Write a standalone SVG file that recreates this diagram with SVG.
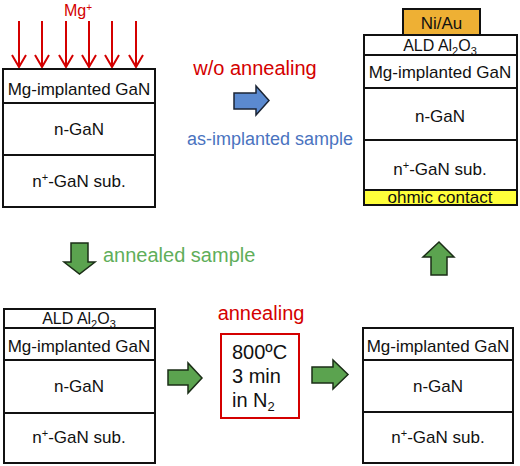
<svg xmlns="http://www.w3.org/2000/svg" width="520" height="466" viewBox="0 0 520 466">
<defs>
<style>
text{font-family:"Liberation Sans",Arial,sans-serif;}
.layer{fill:#fff;stroke:#111;stroke-width:2;}
.t{font-size:17px;fill:#111;text-anchor:middle;}
.red{fill:#d40000;}
.ga{fill:#5ba34f;stroke:#1b2e17;stroke-width:1.5;stroke-linejoin:miter;}
.ba{fill:#5b8ad0;stroke:#1b2535;stroke-width:1.5;}
.ion{stroke:#d40000;stroke-width:2;fill:none;}
</style>
</defs>

<g id="ion-beam">
<text x="78" y="16" class="red" style="font-size:16px;text-anchor:middle">Mg<tspan dy="-5" font-size="10">+</tspan></text>
<line class="ion" x1="19" y1="21" x2="19" y2="67"/>
<line class="ion" x1="42" y1="21" x2="42" y2="67"/>
<line class="ion" x1="66" y1="21" x2="66" y2="67"/>
<line class="ion" x1="89" y1="21" x2="89" y2="67"/>
<line class="ion" x1="112" y1="21" x2="112" y2="67"/>
<line class="ion" x1="136" y1="21" x2="136" y2="67"/>
<path class="ion" d="M12,55 L19,67 L26,55 M35,55 L42,67 L49,55 M59,55 L66,67 L73,55 M82,55 L89,67 L96,55 M105,55 L112,67 L119,55 M129,55 L136,67 L143,55"/>
</g>

<g id="stack-implanted">
<rect class="layer" x="3" y="69" width="152" height="34"/>
<rect class="layer" x="3" y="103" width="152" height="52"/>
<rect class="layer" x="3" y="155" width="152" height="52"/>
<text class="t" x="79" y="95">Mg-implanted GaN</text>
<text class="t" x="79" y="135">n-GaN</text>
<text class="t" x="79" y="187">n<tspan dy="-6" font-size="11">+</tspan><tspan dy="6">-GaN sub.</tspan></text>
</g>

<g id="stack-device">
<rect x="403" y="9" width="77" height="26" fill="#eeb034" stroke="#111" stroke-width="2"/>
<text class="t" x="441.5" y="29">Ni/Au</text>
<rect class="layer" x="364" y="35" width="153" height="20"/>
<rect class="layer" x="364" y="55" width="153" height="33"/>
<rect class="layer" x="364" y="88" width="153" height="52"/>
<rect class="layer" x="364" y="140" width="153" height="50"/>
<rect x="364" y="190" width="153" height="15" fill="#ffff3a" stroke="#111" stroke-width="2"/>
<text class="t" x="440" y="51" style="font-size:16px">ALD Al<tspan dy="4" font-size="11">2</tspan><tspan dy="-4">O</tspan><tspan dy="4" font-size="11">3</tspan></text>
<text class="t" x="440" y="78">Mg-implanted GaN</text>
<text class="t" x="440" y="122">n-GaN</text>
<text class="t" x="440" y="175">n<tspan dy="-6" font-size="11">+</tspan><tspan dy="6">-GaN sub.</tspan></text>
<text class="t" x="440" y="203">ohmic contact</text>
</g>

<g id="stack-capped">
<rect class="layer" x="4" y="309" width="151" height="19"/>
<rect class="layer" x="4" y="328" width="151" height="32"/>
<rect class="layer" x="4" y="360" width="151" height="53"/>
<rect class="layer" x="4" y="413" width="151" height="50"/>
<text class="t" x="79" y="324" style="font-size:16px">ALD Al<tspan dy="4" font-size="11">2</tspan><tspan dy="-4">O</tspan><tspan dy="4" font-size="11">3</tspan></text>
<text class="t" x="79" y="352">Mg-implanted GaN</text>
<text class="t" x="79" y="392">n-GaN</text>
<text class="t" x="79" y="443">n<tspan dy="-6" font-size="11">+</tspan><tspan dy="6">-GaN sub.</tspan></text>
</g>

<g id="annealing-step">
<text x="261" y="320" class="red" style="font-size:20px;text-anchor:middle">annealing</text>
<rect x="221" y="334" width="78" height="84" fill="#fff" stroke="#d40000" stroke-width="2"/>
<text x="232" y="359" style="font-size:20px;fill:#111">800ºC</text>
<text x="232" y="383" style="font-size:20px;fill:#111">3 min</text>
<text x="232" y="407" style="font-size:20px;fill:#111">in N<tspan dy="4" font-size="13">2</tspan></text>
</g>

<g id="stack-annealed">
<rect class="layer" x="363" y="328" width="150" height="32"/>
<rect class="layer" x="363" y="360" width="150" height="52"/>
<rect class="layer" x="363" y="412" width="150" height="51"/>
<text class="t" x="438" y="352">Mg-implanted GaN</text>
<text class="t" x="438" y="392">n-GaN</text>
<text class="t" x="438" y="443">n<tspan dy="-6" font-size="11">+</tspan><tspan dy="6">-GaN sub.</tspan></text>
</g>

<g id="connectors">
<polygon class="ba" points="234,93 256,93 256,86 269,100.5 256,115 256,109 234,109"/>
<text x="255" y="75" class="red" style="font-size:20px;text-anchor:middle">w/o annealing</text>
<text x="187" y="145" style="font-size:18px;fill:#4a73bf">as-implanted sample</text>
<polygon class="ga" points="71,243 88,243 88,262 95,262 79.5,274 64,262 71,262"/>
<text x="103" y="262" style="font-size:20px;fill:#5fae5a">annealed sample</text>
<polygon class="ga" points="168,370 188,370 188,363 202,378 188,393 188,385 168,385"/>
<polygon class="ga" points="312,367 333,367 333,360 348,374.5 333,389 333,383 312,383"/>
<polygon class="ga" points="431,275 447,275 447,257 454,257 439,242 423,257 431,257"/>
</g>
</svg>
